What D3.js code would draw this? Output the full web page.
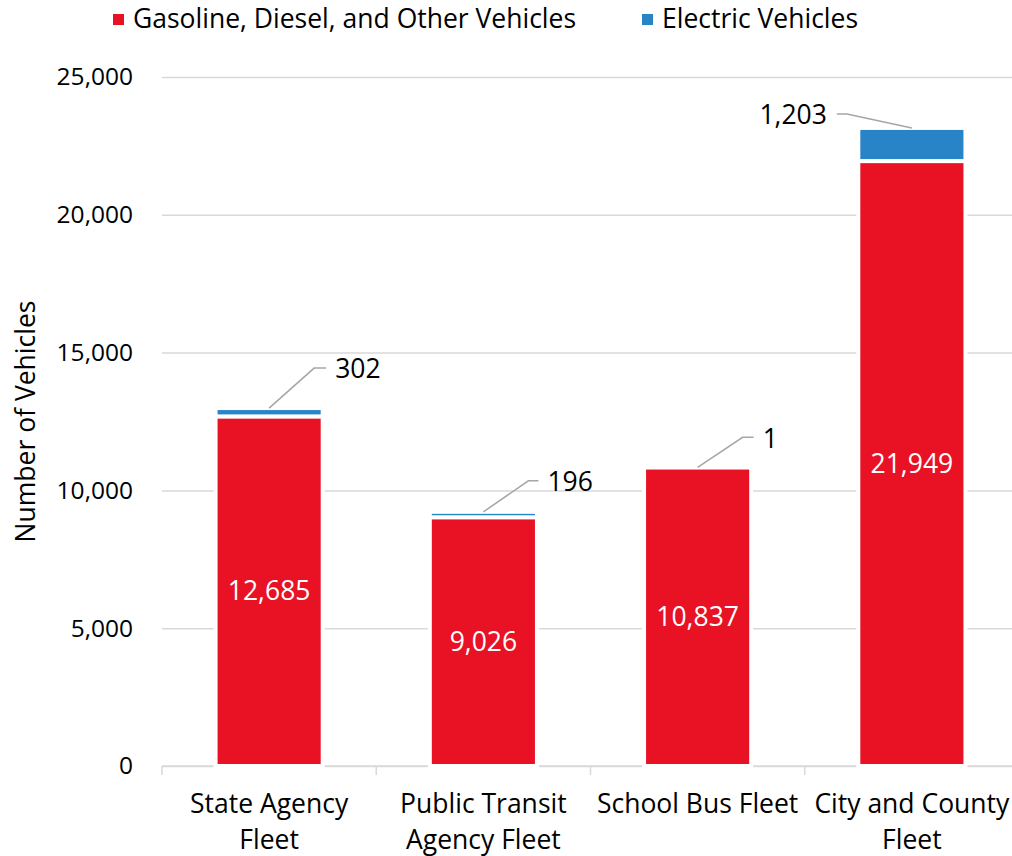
<!DOCTYPE html>
<html>
<head>
<meta charset="utf-8">
<script src="https://cdn.jsdelivr.net/npm/d3@7"></script>
<style>
  body { margin: 0; background: #fff; }
  text { font-family: "Open Sans", "Noto Sans", sans-serif; }
</style>
</head>
<body>
<script>
// chart data
const categories = [["State Agency", "Fleet"], ["Public Transit", "Agency Fleet"], ["School Bus Fleet"], ["City and County", "Fleet"]];
const gasVehicles = [12685, 9026, 10837, 21949];
const electricVehicles = [302, 196, 1, 1203];
const seriesNames = ["Gasoline, Diesel, and Other Vehicles", "Electric Vehicles"];
const yTicks = [0, 5000, 10000, 15000, 20000, 25000];

// where the EV labels sit relative to the top of each bar: [dx, dy, horizontal leg]
const evLeader = [[45, -40, 12], [45, -31, 10], [45, -30, 11], [-65, -14, -10]];

const width = 1012;
const height = 856;
const margin = {top: 77, left: 162, bottom: 90};
const plotRight = 1019;
const fontSize = "26.5px";

const red = "#e81224";
const blue = "#2884c6";
const gridColor = "#d9d9d9";

const svg = d3.select("body")
    .append("svg")
    .attr("width", width)
    .attr("height", height);

const keys = categories.map(c => c.join(" "));

const x = d3.scaleBand()
    .domain(keys)
    .range([margin.left, plotRight])
    .paddingInner(0.5)
    .paddingOuter(0.25);

const y = d3.scaleLinear()
    .domain([0, 25000])
    .range([height - margin.bottom, margin.top]);

// gridlines + y labels
const yAxis = svg.append("g")
    .attr("transform", `translate(${margin.left},0)`)
    .call(d3.axisLeft(y)
        .tickValues(yTicks)
        .tickFormat(d3.format(","))
        .tickSize(-(plotRight - margin.left))
        .tickPadding(29));
yAxis.select(".domain").remove();
yAxis.selectAll(".tick line").attr("stroke", gridColor).attr("stroke-width", 1.5);
yAxis.selectAll(".tick text")
    .attr("fill", "#000")
    .style("font-size", "24.5px")
    .style("font-family", "'Open Sans', sans-serif");

// x axis: baseline and ticks at the category boundaries
const y0 = y(0);
svg.append("line")
    .attr("x1", margin.left).attr("x2", plotRight)
    .attr("y1", y0).attr("y2", y0)
    .attr("stroke", gridColor).attr("stroke-width", 1.5);
d3.range(keys.length + 1).forEach(i => {
    const bx = margin.left + i * x.step();
    svg.append("line")
        .attr("x1", bx).attr("x2", bx)
        .attr("y1", y0).attr("y2", y0 + 9)
        .attr("stroke", gridColor).attr("stroke-width", 1.5);
});

// stacked bars
const rows = keys.map((k, i) => ({key: k, gas: gasVehicles[i], ev: electricVehicles[i]}));
const stack = d3.stack().keys(["gas", "ev"])(rows);
const colors = [red, blue];

stack.forEach((layer, li) => {
    svg.append("g")
        .selectAll("rect")
        .data(layer)
        .join("rect")
        .attr("x", d => x(d.data.key))
        .attr("width", x.bandwidth())
        .attr("y", d => y(d[1]))
        .attr("height", d => y(d[0]) - y(d[1]))
        .attr("fill", colors[li])
        .attr("stroke", "#fff")
        .attr("stroke-width", 4);
});

// gas values inside bars
svg.append("g")
    .selectAll("text")
    .data(stack[0])
    .join("text")
    .attr("x", d => x(d.data.key) + x.bandwidth() / 2)
    .attr("y", d => (y(d[0]) + y(d[1])) / 2)
    .attr("dy", "0.35em")
    .attr("text-anchor", "middle")
    .attr("fill", "#fff")
    .style("font-size", fontSize)
    .text(d => d3.format(",")(d.data.gas));

// EV values with leader lines
const evG = svg.append("g");
stack[1].forEach((d, i) => {
    const ax = x(d.data.key) + x.bandwidth() / 2;
    const ay = y(d[1]);
    const [dx, dy, leg] = evLeader[i];
    const ex = ax + dx, ey = ay + dy;
    evG.append("polyline")
        .attr("points", [[ax, ay], [ex, ey], [ex + leg, ey]].map(p => p.join(",")).join(" "))
        .attr("fill", "none")
        .attr("stroke", "#a6a6a6")
        .attr("stroke-width", 1.5);
    evG.append("text")
        .attr("x", ex + leg + (leg > 0 ? 9 : -10))
        .attr("y", ey + 1)
        .attr("dy", "0.35em")
        .attr("text-anchor", leg > 0 ? "start" : "end")
        .attr("fill", "#000")
        .style("font-size", fontSize)
        .text(d3.format(",")(d.data.ev));
});

// category labels
const catG = svg.append("g");
categories.forEach((lines, i) => {
    const cx = x(keys[i]) + x.bandwidth() / 2;
    lines.forEach((line, j) => {
        catG.append("text")
            .attr("x", cx)
            .attr("y", 804 + j * 36)
            .attr("dy", "0.35em")
            .attr("text-anchor", "middle")
            .attr("fill", "#000")
            .style("font-size", fontSize)
            .text(line);
    });
});

// y axis title
svg.append("text")
    .attr("transform", `translate(26,${(y(0) + y(25000)) / 2}) rotate(-90)`)
    .attr("dy", "0.35em")
    .attr("text-anchor", "middle")
    .attr("fill", "#000")
    .style("font-size", fontSize)
    .text("Number of Vehicles");

// legend
const legendX = [113, 642];
const legend = svg.append("g");
seriesNames.forEach((name, i) => {
    legend.append("rect")
        .attr("x", legendX[i]).attr("y", 14)
        .attr("width", 11).attr("height", 11)
        .attr("fill", colors[i]);
    legend.append("text")
        .attr("x", legendX[i] + 20)
        .attr("y", 19)
        .attr("dy", "0.35em")
        .attr("fill", "#000")
        .style("font-size", fontSize)
        .text(name);
});
</script>
</body>
</html>
